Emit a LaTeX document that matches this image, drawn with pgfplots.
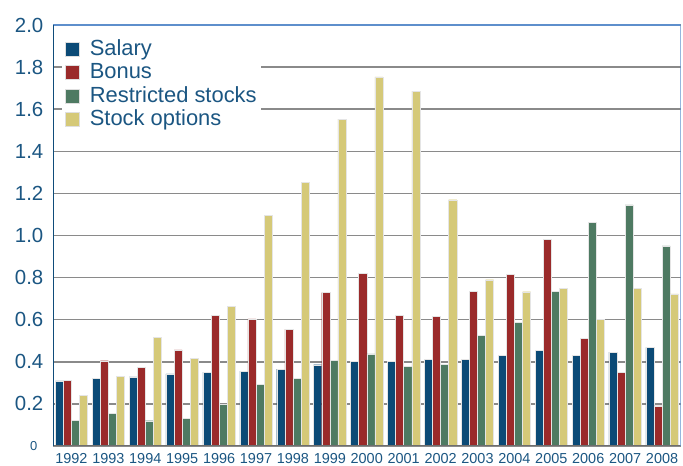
\documentclass[border=0pt]{standalone}
\usepackage{pgfplots}
\pgfplotsset{compat=1.18}
\usepackage{fontspec}
\setmainfont{Liberation Sans}
\definecolor{salary}{HTML}{0B4A76}
\definecolor{bonus}{HTML}{9A2A2A}
\definecolor{restr}{HTML}{4E7A62}
\definecolor{opt}{HTML}{D5C978}
\definecolor{textc}{HTML}{1B5682}
\definecolor{leftax}{HTML}{0F4C7A}
\definecolor{frameblue}{HTML}{5E8FCC}
\definecolor{gridc}{HTML}{8A8A8A}
\begin{document}
\begin{tikzpicture}
\begin{axis}[
  scale only axis,
  width=627.5bp, height=421bp,
  ybar=0pt, bar width=8.1bp,
  xmin=-0.5, xmax=16.5, ymin=0, ymax=2,
  xtick={0,...,16},
  xticklabels={1992,1993,1994,1995,1996,1997,1998,1999,2000,2001,2002,2003,2004,2005,2006,2007,2008},
  ytick={0,0.2,0.4,0.6,0.8,1.0,1.2,1.4,1.6,1.8,2.0},
  yticklabels={{\fontsize{13}{15}\selectfont 0\hspace*{6bp}},0.2,0.4,0.6,0.8,1.0,1.2,1.4,1.6,1.8,2.0},
  major tick length=0pt,
  axis line style={draw=none},
  ymajorgrids, grid style={gridc, line width=1.5bp},
  xticklabel style={font=\fontsize{14.5}{16}\selectfont, text=textc, inner sep=0pt, anchor=north, yshift=-7bp},
  yticklabel style={font=\fontsize{20.5}{24}\selectfont, text=textc, inner sep=0pt, anchor=east, xshift=-9.5bp},
  legend style={at={(rel axis cs:0,1)}, anchor=north west, xshift=9bp, yshift=-10bp,
    draw=none, fill=white, font=\fontsize{22}{24}\selectfont, text=textc,
    inner sep=3bp, row sep=0pt,
    nodes={inner sep=1bp, text height=16.3bp, text depth=5bp},
    /tikz/every odd column/.append style={column sep=9bp}},
  legend cell align=left,
  legend image code/.code={\draw[#1, draw=white!75!gray, line width=0.6bp] (0bp,-6.5bp) rectangle (14bp,7.5bp);},
  every axis plot/.append style={draw=white!80!gray, line width=0.4bp},
]
\addplot[fill=salary] coordinates {(0,0.309)(1,0.32)(2,0.328)(3,0.343)(4,0.351)(5,0.356)(6,0.365)(7,0.386)(8,0.402)(9,0.402)(10,0.411)(11,0.411)(12,0.429)(13,0.454)(14,0.432)(15,0.446)(16,0.468)};
\addplot[fill=bonus] coordinates {(0,0.312)(1,0.405)(2,0.372)(3,0.457)(4,0.622)(5,0.604)(6,0.555)(7,0.729)(8,0.820)(9,0.620)(10,0.616)(11,0.734)(12,0.816)(13,0.983)(14,0.513)(15,0.351)(16,0.191)};
\addplot[fill=restr] coordinates {(0,0.123)(1,0.154)(2,0.12)(3,0.133)(4,0.198)(5,0.294)(6,0.32)(7,0.408)(8,0.438)(9,0.377)(10,0.389)(11,0.524)(12,0.589)(13,0.736)(14,1.062)(15,1.146)(16,0.951)};
\addplot[fill=opt] coordinates {(0,0.24)(1,0.332)(2,0.516)(3,0.418)(4,0.665)(5,1.097)(6,1.251)(7,1.553)(8,1.754)(9,1.686)(10,1.170)(11,0.79)(12,0.733)(13,0.75)(14,0.603)(15,0.75)(16,0.723)};
\legend{Salary,Bonus,Restricted stocks,Stock options}
\draw[gridc!80!black, line width=2bp] (rel axis cs:0,0) -- (rel axis cs:1,0);
\draw[frameblue, line width=2bp] (rel axis cs:0,1) -- (rel axis cs:1,1) -- (rel axis cs:1,0);
\draw[leftax, line width=2bp] (rel axis cs:0,0) -- (rel axis cs:0,1);
\end{axis}
\pgfresetboundingbox
\useasboundingbox (-53bp,-20bp) rectangle (630bp,446bp);
\end{tikzpicture}
\end{document}
